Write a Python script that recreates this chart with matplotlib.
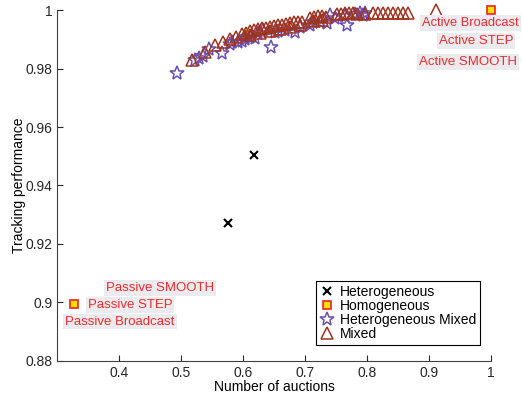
import numpy as np
from matplotlib import pyplot as plt

plt.rcParams["font.family"] = ["Liberation Sans", "DejaVu Sans"]

# Heterogeneous
het_x = [0.6177, 0.5758]
het_y = [0.9504, 0.9272]

# Homogeneous
hom_x = [0.3274, 1.0]
hom_y = [0.8995, 1.0]

# Heterogeneous Mixed
hmix_x = [0.4935, 0.5226, 0.5290, 0.5355, 0.5661, 0.5452, 0.5919, 0.5790,
          0.6032, 0.6113, 0.6194, 0.6323, 0.6450, 0.6839, 0.7129, 0.7355,
          0.7677, 0.7935, 0.7403, 0.5823, 0.6032, 0.6242, 0.6516, 0.6677,
          0.6919, 0.7081, 0.7242, 0.7484, 0.7645, 0.7806, 0.7887, 0.7968,
          0.5984, 0.6565]
hmix_y = [0.9785, 0.9829, 0.9836, 0.9843, 0.9853, 0.9867, 0.9891, 0.9884,
          0.9901, 0.9908, 0.9904, 0.9932, 0.9874, 0.9925, 0.9959, 0.9956,
          0.9949, 0.9983, 0.9983, 0.9891, 0.9908, 0.9921, 0.9925, 0.9932,
          0.9942, 0.9949, 0.9959, 0.9973, 0.9979, 0.9986, 0.9990, 0.9990,
          0.9895, 0.9928]

# Mixed
mix_x = [0.5177, 0.5387, 0.5548, 0.5677, 0.5790, 0.5887, 0.5984, 0.6048,
         0.6113, 0.6177, 0.6242, 0.6306, 0.6371, 0.6435, 0.6500, 0.6565,
         0.6629, 0.6694, 0.6758, 0.6823, 0.6887, 0.6952,
         0.6113, 0.6274, 0.6435, 0.6597, 0.6758, 0.6919,
         0.7081, 0.7145, 0.7210, 0.7274, 0.7339, 0.7145, 0.7274,
         0.7516, 0.7581, 0.7645, 0.7710, 0.7774, 0.7839, 0.7968, 0.8097,
         0.8177, 0.8258, 0.8339, 0.8419, 0.8500, 0.8581, 0.8661, 0.9113]
mix_y = [0.9829, 0.9856, 0.9880, 0.9891, 0.9901, 0.9908, 0.9918, 0.9921,
         0.9928, 0.9932, 0.9935, 0.9938, 0.9938, 0.9942, 0.9945, 0.9949,
         0.9949, 0.9952, 0.9956, 0.9959, 0.9959, 0.9959,
         0.9915, 0.9921, 0.9928, 0.9935, 0.9942, 0.9949,
         0.9973, 0.9976, 0.9979, 0.9979, 0.9976, 0.9962, 0.9966,
         0.9986, 0.9986, 0.9990, 0.9990, 0.9990, 0.9986, 0.9986, 0.9990,
         0.9990, 0.9990, 0.9990, 0.9990, 0.9990, 0.9990, 0.9990, 1.0]

fig = plt.figure(figsize=(5.22, 3.97), dpi=100)
ax = fig.add_axes([0.1092, 0.0907, 0.8314, 0.8841])

ax.plot(het_x, het_y, "x", color="black", markersize=6, mew=1.5,
        label="Heterogeneous", clip_on=False)
ax.plot(hom_x, hom_y, "s", markerfacecolor="#ffe000", markeredgecolor="#ee2222",
        markersize=6, mew=1.2, label="Homogeneous", clip_on=False, zorder=4)
ax.plot(hmix_x, hmix_y, "*", markerfacecolor="none", markeredgecolor="#6a4fb0",
        markersize=10, mew=1.1, label="Heterogeneous Mixed", clip_on=False)
ax.plot(mix_x, mix_y, "^", markerfacecolor="none", markeredgecolor="#a0341e",
        markersize=9, mew=1.1, label="Mixed", clip_on=False)

box = dict(boxstyle="square,pad=0.15", facecolor="#ebebef", edgecolor="none")
red = "#ee2a2a"
ax.text(0.889, 0.9956, "Active Broadcast", color=red, fontsize=9.3,
        ha="left", va="center", bbox=box)
ax.text(0.9758, 0.9893, "Active STEP", color=red, fontsize=9.5,
        ha="center", va="center", bbox=box)
ax.text(0.9629, 0.9822, "Active SMOOTH", color=red, fontsize=9.5,
        ha="center", va="center", bbox=box)
ax.text(0.4661, 0.9050, "Passive SMOOTH", color=red, fontsize=9.5,
        ha="center", va="center", bbox=box)
ax.text(0.4177, 0.8993, "Passive STEP", color=red, fontsize=9.5,
        ha="center", va="center", bbox=box)
ax.text(0.4016, 0.8935, "Passive Broadcast", color=red, fontsize=9.5,
        ha="center", va="center", bbox=box)

ax.set_xlim(0.3, 1.0)
ax.set_ylim(0.88, 1.0)
ax.set_xticks([0.4, 0.5, 0.6, 0.7, 0.8, 0.9, 1.0])
ax.set_xticklabels(["0.4", "0.5", "0.6", "0.7", "0.8", "0.9", "1"])
ax.set_yticks([0.88, 0.9, 0.92, 0.94, 0.96, 0.98, 1.0])
ax.set_yticklabels(["0.88", "0.9", "0.92", "0.94", "0.96", "0.98", "1"])
ax.tick_params(direction="in", length=4, labelsize=10, colors="#262626")
for s in ["top", "right"]:
    ax.spines[s].set_visible(False)
for s in ["left", "bottom"]:
    ax.spines[s].set_color("#404040")

ax.set_xlabel("Number of auctions", fontsize=10, labelpad=0)
ax.set_ylabel("Tracking performance", fontsize=10, labelpad=-0.5)

leg = ax.legend(loc="upper left", bbox_to_anchor=(0.597, 0.228), borderaxespad=0,
                fontsize=10, labelspacing=0.0, handlelength=1.0, handletextpad=0.4,
                borderpad=0.3, fancybox=False, edgecolor="black", framealpha=1)
leg.get_frame().set_linewidth(0.8)

plt.savefig("out.png", dpi=100)
